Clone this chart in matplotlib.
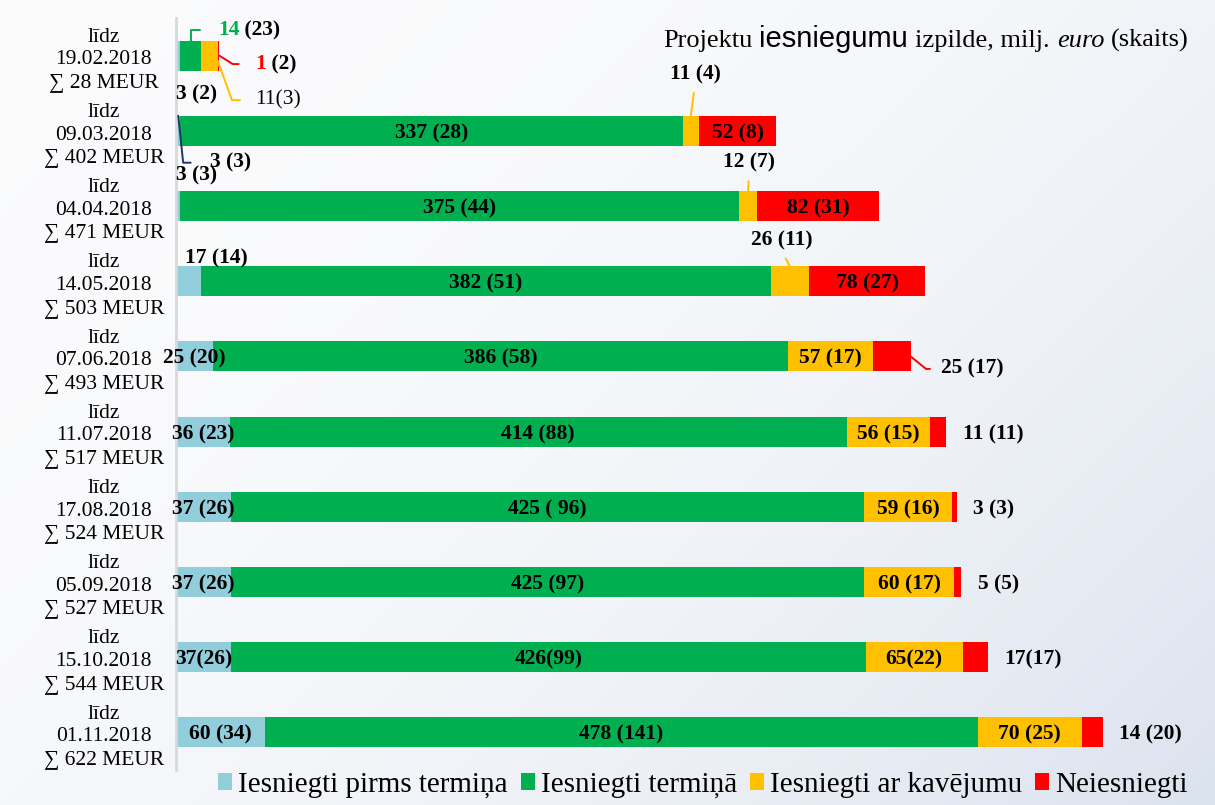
import numpy as np
import matplotlib.pyplot as plt
from matplotlib.patches import Patch

plt.rcParams['font.family'] = ['Liberation Serif', 'DejaVu Serif']

# --- data (milj. euro and count) ---
dates = ["19.02.2018", "09.03.2018", "04.04.2018", "14.05.2018", "07.06.2018",
         "11.07.2018", "17.08.2018", "05.09.2018", "15.10.2018", "01.11.2018"]
totals = [28, 402, 471, 503, 493, 517, 524, 527, 544, 622]

early = [3, 3, 3, 17, 25, 36, 37, 37, 37, 60]
early_n = [2, 3, 3, 14, 20, 23, 26, 26, 26, 34]
on_time = [14, 337, 375, 382, 386, 414, 425, 425, 426, 478]
on_time_n = [23, 28, 44, 51, 58, 88, 96, 97, 99, 141]
late = [11, 11, 12, 26, 57, 56, 59, 60, 65, 70]
late_n = [3, 4, 7, 11, 17, 15, 16, 17, 22, 25]
missing = [1, 52, 82, 78, 25, 11, 3, 5, 17, 14]
missing_n = [2, 8, 31, 27, 17, 11, 3, 5, 17, 20]

series_names = ["Iesniegti pirms termiņa", "Iesniegti termiņā",
                "Iesniegti ar kavējumu", "Neiesniegti"]
colors = ["#92CDDC", "#00B050", "#FFC000", "#FF0000"]

# label texts that are written differently on the original slide
label_fix = {(6, 1): "425 ( 96)", (8, 0): "37(26)", (8, 1): "426(99)",
             (8, 2): "65(22)", (8, 3): "17(17)", (0, 2): "11(3)"}

W, H = 1215, 805
fig = plt.figure(figsize=(W / 100, H / 100), dpi=100)

# soft diagonal background like the slide
bg = fig.add_axes([0, 0, 1, 1], zorder=-10)
gx, gy = np.meshgrid(np.linspace(0, 1, 300), np.linspace(0, 1, 200))
t = np.clip((gx * 0.6 + gy * 0.4), 0, 1) ** 2.2
c0 = np.array([0.985, 0.985, 0.99])
c1 = np.array([0.86, 0.89, 0.935])
img = c0[None, None, :] * (1 - t[..., None]) + c1[None, None, :] * t[..., None]
bg.imshow(img, aspect='auto', extent=[0, 1, 0, 1], origin='upper')
bg.axis('off')

ax = fig.add_axes([176 / W, 1 - 770 / H, 1024 / W, 752 / H])
ax.set_facecolor('none')

rows = np.arange(len(dates))
values = [early, on_time, late, missing]
counts = [early_n, on_time_n, late_n, missing_n]
left = np.zeros(len(dates))
lefts = []
for vals, col, name in zip(values, colors, series_names):
    ax.barh(rows, vals, left=left, height=0.4, color=col, label=name, zorder=2)
    lefts.append(left.copy())
    left = left + np.array(vals)

ax.set_xlim(0, 1024 / 1.49)
ax.set_ylim(9.5, -0.5)
ax.set_xticks([])
ax.set_yticks(rows)
ax.set_yticklabels([f"līdz\n{d}\n∑ {s} MEUR" for d, s in zip(dates, totals)],
                   ha='center', linespacing=1.26)
ax.tick_params(axis='y', length=0, pad=52, labelsize=15.5)
for s in ['top', 'right', 'bottom']:
    ax.spines[s].set_visible(False)
ax.spines['left'].set_color('#d9d9d9')
ax.spines['left'].set_linewidth(2)

LBL = dict(fontsize=15.5, fontweight='bold', color='black', zorder=5)


def lbl(i, k):
    return label_fix.get((i, k), f"{values[k][i]} ({counts[k][i]})")


def leader(txt, x, y, dx, dy, col, angle=None, shrink=0, relpos=(0, 0.5),
           ha='left', **kw):
    cs = f"angle,angleA=0,angleB={angle},rad=0" if angle is not None else "arc3"
    opts = dict(LBL)
    opts.update(kw)
    return ax.annotate(txt, xy=(x, y), xytext=(dx, dy), textcoords='offset points',
                       ha=ha, va='center_baseline',
                       arrowprops=dict(arrowstyle='-', color=col, lw=1.4,
                                       shrinkA=shrink, shrinkB=0, relpos=relpos,
                                       connectionstyle=cs), **opts)


def note(txt, x, y, dx, dy, ha='left'):
    return ax.annotate(txt, xy=(x, y), xytext=(dx, dy), textcoords='offset points',
                       ha=ha, va='center_baseline', **LBL)


# which segments get the default centered label
outside = {(0, 0), (0, 1), (0, 2), (0, 3), (1, 0), (1, 2), (2, 0), (2, 2),
           (3, 0), (3, 2), (4, 3), (5, 3), (6, 3), (7, 3), (8, 3), (9, 3)}
for i in rows:
    for k in range(4):
        if (i, k) in outside:
            continue
        xc = lefts[k][i] + values[k][i] / 2
        ax.text(xc, i, lbl(i, k), ha='center', va='center_baseline', **LBL)

# first row: everything is outside the tiny bar
note(lbl(0, 0), 0, 0, 0, -26)
xg = lefts[1][0] + on_time[0] / 2
t14 = leader(str(on_time[0]), xg, -0.2, 19.5, 9.5, colors[1], angle=90,
             shrink=11, color=colors[1])
ax.annotate(f" ({on_time_n[0]})", xy=(1, 0), xycoords=t14, ha='left',
            va='bottom', **LBL)
xr = lefts[3][0] + missing[0]
t1 = leader(str(missing[0]), xr, 0, 26, -4.3, colors[3], angle=-32, shrink=10,
            color=colors[3])
ax.annotate(f" ({missing_n[0]})", xy=(1, 0), xycoords=t1, ha='left',
            va='bottom', **LBL)
xo = lefts[2][0] + late[0]
leader(lbl(0, 2), xo, 0.07, 27, -26.5, colors[2], angle=-70, shrink=9,
       fontweight='normal')

# small blue values of rows 2-4
leader(lbl(1, 0), early[1] / 2, 1 - 0.2, 23, -32, "#1F3864", angle=-84, shrink=12)
note(lbl(2, 0), 0, 2, 0, 24)
note(lbl(3, 0), 0, 3, 6.5, 18)

# delayed values above the bars
for i, dx, dy in [(1, 3, 31.5), (2, 0.5, 22), (3, -6, 20)]:
    xc = lefts[2][i] + late[i] / 2
    leader(lbl(i, 2), xc, i - 0.2, dx, dy, colors[2], shrink=4,
           relpos=(0.5, 0), ha='center')

# not submitted values right of the bars
xr = lefts[3][4] + missing[4]
leader(lbl(4, 3), xr, 4, 22, -7.2, colors[3], angle=-39, shrink=6)
for i in range(5, 10):
    note(lbl(i, 3), lefts[3][i] + missing[i], i, 12, 0)

# title made of mixed fonts
fig.canvas.draw()
rend = fig.canvas.get_renderer()
pieces = [("Projektu", dict(fontsize=19)),
          ("iesniegumu", dict(fontsize=21, family=['Liberation Sans', 'DejaVu Sans'])),
          ("izpilde, milj.", dict(fontsize=19)),
          ("euro", dict(fontsize=19, style='italic')),
          ("(skaits)", dict(fontsize=19))]
x = 663
for txt, kw in pieces:
    tt = fig.text(x / W, 1 - 47 / H, txt, ha='left', va='baseline', **kw)
    x = tt.get_window_extent(rend).x1 + 7

handles = [Patch(facecolor=c, edgecolor='none') for c in colors]
fig.legend(handles, series_names, loc='center', bbox_to_anchor=(703 / W, 1 - 785 / H),
           ncol=4, frameon=False, fontsize=21, handlelength=0.48, handleheight=0.52,
           handletextpad=0.2, columnspacing=0.45, borderpad=0, borderaxespad=0)

fig.savefig("out.png", dpi=100)
